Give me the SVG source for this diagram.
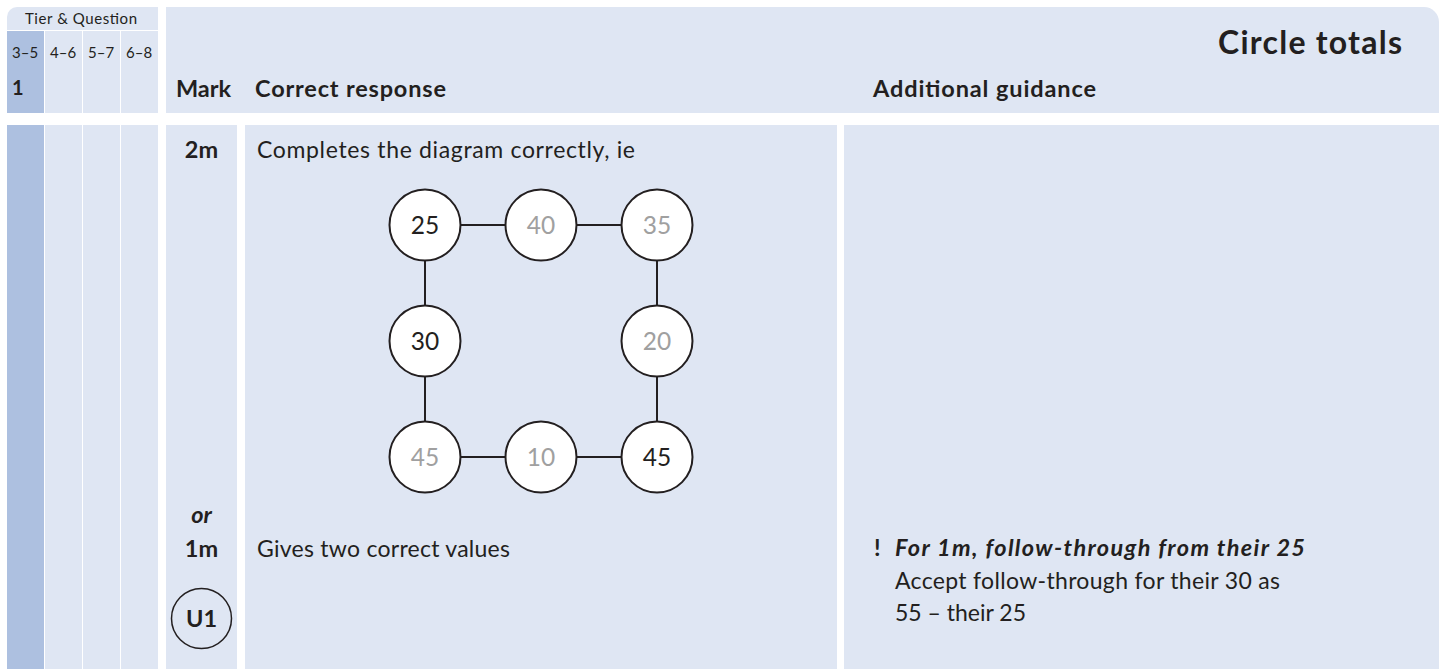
<svg xmlns="http://www.w3.org/2000/svg" width="1445" height="669" viewBox="0 0 1445 669">
  <style>
    .pale { fill: #dfe6f3; }
    .deep { fill: #adc0e0; }
    .t { font-family: Lato, "Liberation Sans", sans-serif; fill: #231f20; }
    .small { font-size: 15px; }
    .hd { font-size: 23.5px; font-weight: 700; }
    .body { font-size: 23px; font-weight: 400; }
    .num { font-size: 24.5px; text-anchor: middle; }
    .given { fill: #231f20; }
    .found { fill: #a0a0a0; }
    .node { fill: #ffffff; stroke: #231f20; stroke-width: 2; }
    .link { stroke: #231f20; stroke-width: 2; fill: none; }
  </style>

  <rect width="1445" height="669" fill="#ffffff"/>

  <!-- Tier & Question header -->
  <g id="tier-header">
    <path class="pale" d="M7 30 V17 A10 10 0 0 1 17 7 H158 V30 Z"/>
    <text class="t small" x="81" y="24" text-anchor="middle" textLength="112">Tier &amp; Question</text>
    <rect class="deep" x="7" y="31" width="37" height="82"/>
    <rect class="pale" x="45" y="31" width="37" height="82"/>
    <rect class="pale" x="83" y="31" width="37" height="82"/>
    <rect class="pale" x="121" y="31" width="37" height="82"/>
    <text class="t small" x="12" y="58">3–5</text>
    <text class="t small" x="50" y="58">4–6</text>
    <text class="t small" x="88" y="58">5–7</text>
    <text class="t small" x="126" y="58">6–8</text>
    <text class="t" x="12" y="95" font-size="20" font-weight="700">1</text>
  </g>

  <!-- Main header -->
  <g id="main-header">
    <path class="pale" d="M166 7 H1424 A15 15 0 0 1 1439 22 V113 H166 Z"/>
    <text class="t" x="1402" y="54" font-size="32" font-weight="700" text-anchor="end" textLength="184">Circle totals</text>
    <text class="t hd" x="176" y="97" textLength="55">Mark</text>
    <text class="t hd" x="255" y="97" textLength="191">Correct response</text>
    <text class="t hd" x="873" y="97" textLength="223">Additional guidance</text>
  </g>

  <!-- Body row columns -->
  <g id="tier-body">
    <rect class="deep" x="7" y="125" width="37" height="544"/>
    <rect class="pale" x="45" y="125" width="37" height="544"/>
    <rect class="pale" x="83" y="125" width="37" height="544"/>
    <rect class="pale" x="121" y="125" width="37" height="544"/>
  </g>

  <g id="mark-column">
    <rect class="pale" x="166" y="125" width="71" height="544"/>
    <text class="t hd" x="201.5" y="158" text-anchor="middle">2m</text>
    <text class="t hd" x="201.5" y="523" text-anchor="middle" font-style="italic">or</text>
    <text class="t hd" x="201.5" y="557" text-anchor="middle">1m</text>
    <circle cx="201.5" cy="618.5" r="30" fill="none" stroke="#231f20" stroke-width="1.5"/>
    <text class="t hd" x="201.5" y="627" text-anchor="middle">U1</text>
  </g>

  <g id="response-column">
    <rect class="pale" x="245" y="125" width="592" height="544"/>
    <text class="t body" x="257" y="158" textLength="378">Completes the diagram correctly, ie</text>
    <text class="t body" x="257" y="557" textLength="253">Gives two correct values</text>
  </g>

  <g id="guidance-column">
    <rect class="pale" x="844" y="125" width="595" height="544"/>
    <text class="t hd" x="874" y="556">!</text>
    <text class="t hd" x="895" y="556" font-size="24" font-style="italic" textLength="410">For 1m, follow-through from their 25</text>
    <text class="t body" x="895" y="589" textLength="385">Accept follow-through for their 30 as</text>
    <text class="t body" x="895" y="621" textLength="131">55 – their 25</text>
  </g>

  <!-- Connectors between the circles -->
  <g id="connectors">
    <line class="link" x1="460.5" y1="225" x2="505.5" y2="225"/>
    <line class="link" x1="576.5" y1="225" x2="621.5" y2="225"/>
    <line class="link" x1="460.5" y1="457" x2="505.5" y2="457"/>
    <line class="link" x1="576.5" y1="457" x2="621.5" y2="457"/>
    <line class="link" x1="425" y1="260.5" x2="425" y2="305.5"/>
    <line class="link" x1="425" y1="376.5" x2="425" y2="421.5"/>
    <line class="link" x1="657" y1="260.5" x2="657" y2="305.5"/>
    <line class="link" x1="657" y1="376.5" x2="657" y2="421.5"/>
  </g>

  <!-- Circles -->
  <g id="c-25">
    <circle class="node" cx="425" cy="225" r="35.5"/>
    <text class="t num given" x="425" y="233.5">25</text>
  </g>
  <g id="c-40">
    <circle class="node" cx="541" cy="225" r="35.5"/>
    <text class="t num found" x="541" y="233.5">40</text>
  </g>
  <g id="c-35">
    <circle class="node" cx="657" cy="225" r="35.5"/>
    <text class="t num found" x="657" y="233.5">35</text>
  </g>
  <g id="c-30">
    <circle class="node" cx="425" cy="341" r="35.5"/>
    <text class="t num given" x="425" y="349.5">30</text>
  </g>
  <g id="c-20">
    <circle class="node" cx="657" cy="341" r="35.5"/>
    <text class="t num found" x="657" y="349.5">20</text>
  </g>
  <g id="c-45a">
    <circle class="node" cx="425" cy="457" r="35.5"/>
    <text class="t num found" x="425" y="465.5">45</text>
  </g>
  <g id="c-10">
    <circle class="node" cx="541" cy="457" r="35.5"/>
    <text class="t num found" x="541" y="465.5">10</text>
  </g>
  <g id="c-45b">
    <circle class="node" cx="657" cy="457" r="35.5"/>
    <text class="t num given" x="657" y="465.5">45</text>
  </g>
</svg>
